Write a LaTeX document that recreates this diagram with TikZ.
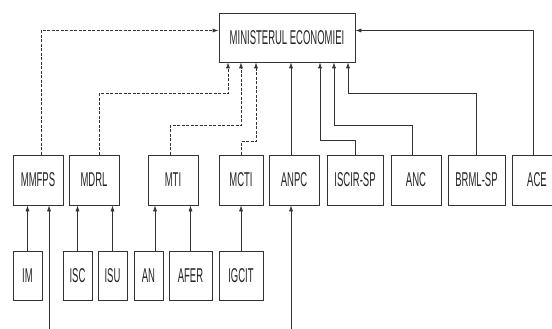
\documentclass[tikz,border=0pt]{standalone}
\usepackage{fontspec}
\setmainfont{Liberation Sans}[FakeStretch=0.475]
\usetikzlibrary{arrows.meta,shadows}

\begin{document}
\begin{tikzpicture}[
  x=1pt, y=-1pt,
  box/.style={draw=black!80, fill=white, line width=0.7pt, inner sep=0pt, align=center,
    font=\fontsize{20}{20}\selectfont, text=black!85, minimum height=50pt,
    drop shadow={shadow xshift=0.5pt, shadow yshift=-1pt, fill=black!50, opacity=1}},
  arrow/.style={-{Latex[length=6pt,width=4pt]}, draw=black!80, line width=0.7pt},
  dotarrow/.style={arrow, dash pattern=on 3pt off 1.5pt}
]
\useasboundingbox (0,0) rectangle (552,329);
\clip (0,0) rectangle (552,329);

% top
\node[box, minimum width=136pt, minimum height=49pt] (me) at (287,37.5) {MINISTERUL ECONOMIEI};

% ministries and agencies
\node[box, minimum width=50pt] (mmfps) at (38,180) {MMFPS};
\node[box, minimum width=50pt] (mdrl) at (94,180) {MDRL};
\node[box, minimum width=50pt] (mti) at (173,180) {MTI};
\node[box, minimum width=44pt] (mcti) at (241,180) {MCTI};
\node[box, minimum width=50pt] (anpc) at (294,180) {ANPC};
\node[box, minimum width=56pt] (iscir) at (355,180) {ISCIR-SP};
\node[box, minimum width=50pt] (anc) at (416,180) {ANC};
\node[box, minimum width=57pt] (brml) at (476.5,180) {BRML-SP};
\node[box, minimum width=50pt] (ace) at (537,180) {ACE};

% subordinated bodies
\node[box, minimum width=29pt, minimum height=49pt] (im) at (27.5,275.5) {IM};
\node[box, minimum width=29pt, minimum height=49pt] (isc) at (77.5,275.5) {ISC};
\node[box, minimum width=29pt, minimum height=49pt] (isu) at (112.5,275.5) {ISU};
\node[box, minimum width=29pt, minimum height=49pt] (an) at (148.5,275.5) {AN};
\node[box, minimum width=43pt, minimum height=49pt] (afer) at (190.5,275.5) {AFER};
\node[box, minimum width=44pt, minimum height=49pt] (igcit) at (241,275.5) {IGCIT};

\coordinate (mmfpsIn) at (49,329);
\coordinate (anpcIn) at (291,329);

% coordination links
\draw[dotarrow] ([xshift=3pt]mmfps.north) |- ([yshift=7pt]me.west);
\draw[dotarrow] ([xshift=5pt]mdrl.north) -- ++(0,-61) -| ([xshift=-59pt]me.south);
\draw[dotarrow] ([xshift=-3pt]mti.north) -- ++(0,-29) -| ([xshift=-46pt]me.south);
\draw[dotarrow] (mcti.north) -- ++(0,-13) -| ([xshift=-31pt]me.south);

% subordination links
\draw[arrow] (anpcIn) -- (anpcIn |- anpc.south);
\draw[arrow] (anpcIn |- anpc.north) -- (anpcIn |- me.south);
\draw[arrow] (iscir.north) -- ++(0,-14) -| ([xshift=33pt]me.south);
\draw[arrow] ([xshift=-4pt]anc.north) -- ++(0,-29) -| ([xshift=47pt]me.south);
\draw[arrow] (brml.north) -- ++(0,-61) -| ([xshift=61pt]me.south);
\draw[arrow] ([xshift=-4pt]ace.north) |- ([yshift=7pt]me.east);

\draw[arrow] (im.north) -- (im.north |- mmfps.south);
\draw[arrow] (mmfpsIn) -- (mmfpsIn |- mmfps.south);
\draw[arrow] (isc.north) -- (isc.north |- mdrl.south);
\draw[arrow] (isu.north) -- (isu.north |- mdrl.south);
\draw[arrow] ([xshift=6.5pt]an.north) -- ([xshift=6.5pt]an.north |- mti.south);
\draw[arrow] (afer.north) -- (afer.north |- mti.south);
\draw[arrow] (igcit.north) -- (igcit.north |- mcti.south);
\end{tikzpicture}
\end{document}
